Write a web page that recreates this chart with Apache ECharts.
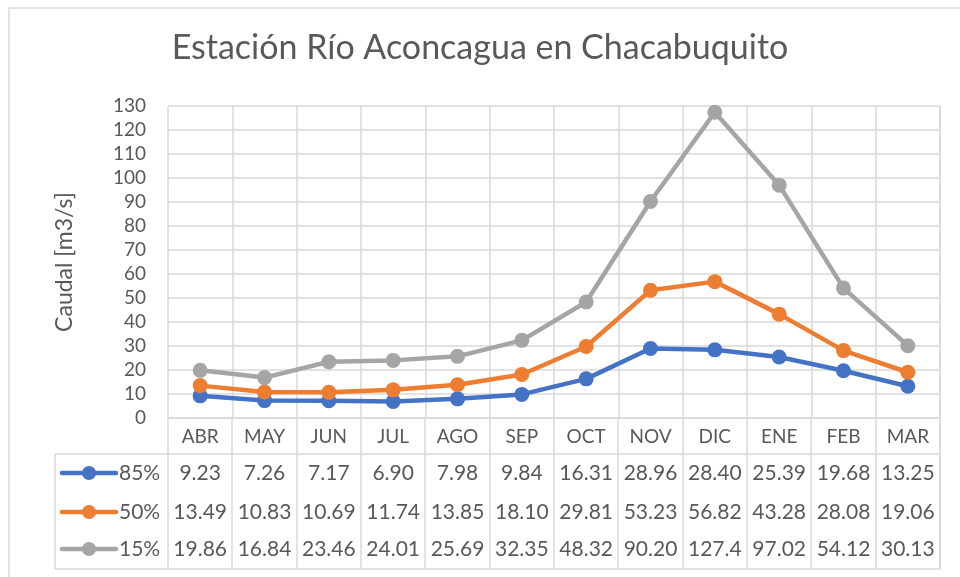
<!DOCTYPE html>
<html>
<head>
<meta charset="utf-8">
<script src="https://cdn.jsdelivr.net/npm/echarts@6/dist/echarts.min.js"></script>
<style>
  html, body { margin: 0; padding: 0; background: #fff; }
  #chart { width: 960px; height: 577px; }
</style>
</head>
<body>
<div id="chart"></div>
<script>
var months = ['ABR', 'MAY', 'JUN', 'JUL', 'AGO', 'SEP', 'OCT', 'NOV', 'DIC', 'ENE', 'FEB', 'MAR'];
var seriesNames = ['85%', '50%', '15%'];
var q85 = [9.23, 7.26, 7.17, 6.90, 7.98, 9.84, 16.31, 28.96, 28.40, 25.39, 19.68, 13.25];
var q50 = [13.49, 10.83, 10.69, 11.74, 13.85, 18.10, 29.81, 53.23, 56.82, 43.28, 28.08, 19.06];
var q15 = [19.86, 16.84, 23.46, 24.01, 25.69, 32.35, 48.32, 90.20, 127.4, 97.02, 54.12, 30.13];
var colors = ['#4472C4', '#ED7D31', '#A5A5A5'];

var FONT = 'Lato, "Open Sans", sans-serif';
var TXT = '#595959';
var GRID = '#d9d9d9';

var chart = echarts.init(document.getElementById('chart'));

function makeSeries(name, data, color) {
  return {
    name: name,
    type: 'line',
    data: data,
    symbol: 'circle',
    symbolSize: 15,
    itemStyle: { color: color },
    lineStyle: { color: color, width: 4.5 },
    emphasis: { disabled: true },
    animation: false
  };
}

chart.setOption({
  animation: false,
  textStyle: { fontFamily: FONT },
  title: {
    text: 'Estación Río Aconcagua en Chacabuquito',
    left: 'center',
    top: 31,
    padding: [0, 0, 0, 30],
    textStyle: { fontFamily: FONT, fontSize: 34, fontWeight: 'normal', color: TXT }
  },
  grid: { left: 168, right: 20, top: 106, bottom: 159 },
  xAxis: {
    type: 'category',
    data: months,
    boundaryGap: true,
    axisLine: { lineStyle: { color: GRID, width: 1.5 } },
    axisTick: { show: false },
    axisLabel: { color: TXT, fontSize: 19, fontFamily: FONT, margin: 9 },
    splitLine: { show: true, lineStyle: { color: GRID, width: 1.5 } }
  },
  yAxis: {
    type: 'value',
    min: 0,
    max: 130,
    interval: 10,
    name: 'Caudal [m3/s]',
    nameLocation: 'middle',
    nameGap: 92,
    nameTextStyle: { color: TXT, fontSize: 23, fontFamily: FONT },
    axisLine: { show: false },
    axisTick: { show: false },
    axisLabel: { color: TXT, fontSize: 19, fontFamily: FONT, margin: 22 },
    splitLine: { lineStyle: { color: GRID, width: 1.5 } }
  },
  series: [
    makeSeries(seriesNames[0], q85, colors[0]),
    makeSeries(seriesNames[1], q50, colors[1]),
    makeSeries(seriesNames[2], q15, colors[2])
  ]
});

// data table below the axis, positioned from the category axis
function fmt(v) {
  return v >= 100 ? v.toFixed(1) : v.toFixed(2);
}

var c0 = chart.convertToPixel({ xAxisIndex: 0 }, 0);
var c1 = chart.convertToPixel({ xAxisIndex: 0 }, 1);
var half = (c1 - c0) / 2;
var axisY = chart.convertToPixel({ yAxisIndex: 0 }, 0);
var topY = chart.convertToPixel({ yAxisIndex: 0 }, 130);
var tableTop = 454, tableBottom = 569, tableLeft = 55;
var rowY = [473, 512, 549];
var rows = [q85, q50, q15];
var lineStyle = { stroke: GRID, lineWidth: 1.5 };
var graphics = [];

// outer chart border
graphics.push({ type: 'rect', shape: { x: 9, y: 8, width: 980, height: 600 },
  style: { fill: null, stroke: GRID, lineWidth: 1.5 }, silent: true });

for (var i = 0; i <= months.length; i++) {
  var bx = Math.round(c0 - half + i * 2 * half);
  graphics.push({ type: 'line', shape: { x1: bx, y1: axisY, x2: bx, y2: tableBottom }, style: lineStyle, silent: true });
}
var rightX = Math.round(c0 - half + months.length * 2 * half);
graphics.push({ type: 'line', shape: { x1: tableLeft, y1: tableTop, x2: rightX, y2: tableTop }, style: lineStyle, silent: true });
graphics.push({ type: 'line', shape: { x1: tableLeft, y1: tableBottom, x2: rightX, y2: tableBottom }, style: lineStyle, silent: true });
graphics.push({ type: 'line', shape: { x1: tableLeft, y1: tableTop, x2: tableLeft, y2: tableBottom }, style: lineStyle, silent: true });
graphics.push({ type: 'line', shape: { x1: rightX, y1: topY, x2: rightX, y2: tableBottom }, style: lineStyle, silent: true });

// legend keys inside the table
seriesNames.forEach(function (name, r) {
  graphics.push({ type: 'line', shape: { x1: 62, y1: rowY[r], x2: 116, y2: rowY[r] },
    style: { stroke: colors[r], lineWidth: 4.5, lineCap: 'round' }, silent: true });
  graphics.push({ type: 'circle', shape: { cx: 89, cy: rowY[r], r: 7 },
    style: { fill: colors[r] }, silent: true });
  graphics.push({ type: 'text', x: 119, y: rowY[r], silent: true,
    style: { text: name, fontFamily: FONT, fontSize: 21, fill: TXT, align: 'left', verticalAlign: 'middle' } });
});

rows.forEach(function (row, r) {
  row.forEach(function (v, i) {
    var cx = chart.convertToPixel({ xAxisIndex: 0 }, i);
    graphics.push({
      type: 'text',
      x: cx,
      y: rowY[r],
      silent: true,
      style: {
        text: fmt(v),
        fontFamily: FONT,
        fontSize: 21,
        fill: TXT,
        align: 'center',
        verticalAlign: 'middle'
      }
    });
  });
});

chart.setOption({ graphic: graphics });
</script>
</body>
</html>
